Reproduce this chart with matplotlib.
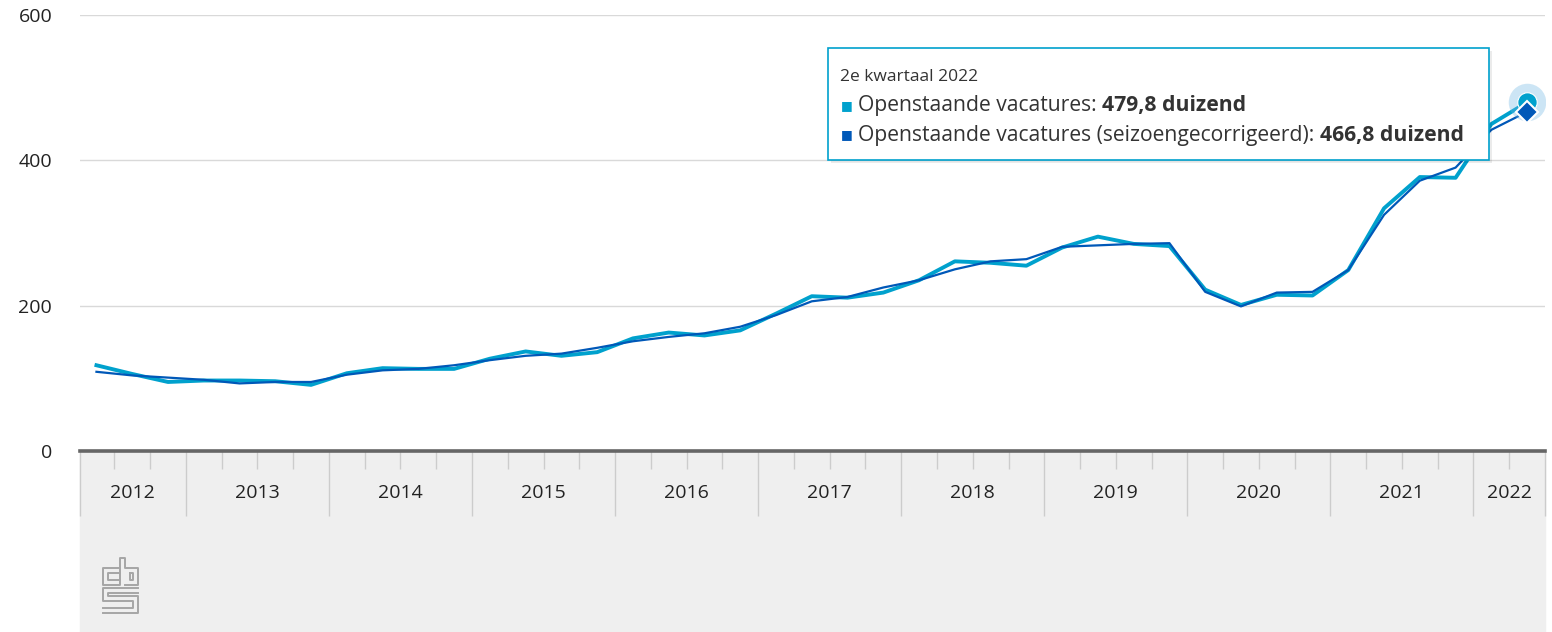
import matplotlib
matplotlib.use("Agg")
import matplotlib.pyplot as plt
from matplotlib.patches import Rectangle
from matplotlib.transforms import blended_transform_factory

plt.rcParams['font.family'] = ['Open Sans', 'DejaVu Sans']

# quarters 2012 Q2 .. 2022 Q2 (x1000 open vacancies)
years = [2012] * 3 + [y for y in range(2013, 2022) for _ in range(4)] + [2022] * 2
quarters = [2, 3, 4] + [1, 2, 3, 4] * 9 + [1, 2]
vac = [118, 106, 95, 97, 97, 96, 91, 107, 114, 113, 113, 127, 137, 131, 136,
       155, 163, 159, 166, 189, 213, 211, 218, 235, 261, 259, 255, 280, 295,
       285, 282, 222, 201, 215, 214, 249, 334, 377, 376, 450, 479.8]
vac_sa = [109, 104, 101, 98, 93, 95, 95, 105, 111, 113, 118, 125, 131, 134, 142,
          151, 157, 162, 171, 187, 206, 212, 225, 235, 250, 261, 264, 281, 283,
          285, 286, 219, 199, 218, 219, 249, 325, 372, 390, 442, 466.8]
year_labels = list(range(2012, 2023))
yticks = [0, 200, 400, 600]

CYAN = '#00a1cd'
BLUE = '#0058b8'

W, H = 1552, 632
fig = plt.figure(figsize=(W / 100, H / 100), dpi=100)

def fx(px):
    return px / W

def fy(py):
    return (H - py) / H

# gray axis band
fig.patches.append(Rectangle((fx(80), 0), fx(1545) - fx(80), fy(451),
                             transform=fig.transFigure, color='#efefef', zorder=-5))

ax = fig.add_axes([fx(80), fy(451), fx(1545) - fx(80), fy(15) - fy(451)])
ax.set_facecolor('none')

x = [y + (q - 0.5) / 4 for y, q in zip(years, quarters)]
xmin, xmax = 2012.26, 2022.5

ax.plot(x, vac, color=CYAN, lw=2.8, solid_joinstyle='round', zorder=3)
ax.plot(x, vac_sa, color=BLUE, lw=1.6, solid_joinstyle='round', zorder=4)

# hover markers on the last point
ax.plot(x[-1], vac[-1], 'o', ms=27, color='#6fb6e3', alpha=0.35, mec='none', zorder=5)
ax.plot(x[-1], vac[-1], 'o', ms=14, color=CYAN, mec='white', mew=0.8, zorder=6)
ax.plot(x[-1], vac_sa[-1], 'D', ms=11, color=BLUE, mec='white', mew=1.5, zorder=7)

ax.set_xlim(xmin, xmax)
ax.set_ylim(0, 600)
ax.set_yticks(yticks)
ax.yaxis.grid(True, color='#d9d9d9', lw=1)
ax.set_axisbelow(True)
ax.tick_params(axis='y', length=0, pad=20, labelsize=14, labelcolor='#222222')

for s in ['top', 'right', 'left']:
    ax.spines[s].set_visible(False)
ax.spines['bottom'].set_color('#666666')
ax.spines['bottom'].set_linewidth(2.6)

major = [xmin] + list(range(2013, 2023)) + [xmax]
minor = [y + q / 4 for y in year_labels for q in (1, 2, 3)]
minor = [m for m in minor if xmin < m < xmax]
ax.set_xticks(major)
ax.set_xticks(minor, minor=True)
ax.tick_params(axis='x', which='major', length=47, width=1, color='#cccccc', labelbottom=False)
ax.tick_params(axis='x', which='minor', length=13, width=1, color='#cccccc', labelbottom=False)

trans = blended_transform_factory(ax.transData, ax.transAxes)
for yr in year_labels:
    lo, hi = max(yr, xmin), min(yr + 1, xmax)
    ax.text((lo + hi) / 2, -0.097, str(yr), transform=trans, ha='center', va='center',
            fontsize=14, color='#222222', clip_on=False)

# tooltip
tip = Rectangle((fx(828), fy(160)), fx(1489) - fx(828), fy(48) - fy(160),
                transform=fig.transFigure, facecolor='white', edgecolor=CYAN,
                lw=1.2, zorder=10)
shadow = Rectangle((fx(831), fy(163)), fx(1489) - fx(828), fy(48) - fy(160),
                   transform=fig.transFigure, facecolor='#000000', alpha=0.08,
                   edgecolor='none', zorder=9)
fig.patches.extend([shadow, tip])

fig.text(fx(840), fy(77), '2e kwartaal 2022', fontsize=12.5, color='#333333',
         va='center', zorder=11)

renderer = fig.canvas.get_renderer()
rows = [(CYAN, 'Openstaande vacatures: ', '479,8 duizend', 106),
        (BLUE, 'Openstaande vacatures (seizoengecorrigeerd): ', '466,8 duizend', 135)]
for col, txt, val, py in rows:
    fig.text(fx(841), fy(py), '\u25a0', fontsize=9, color=col, va='center', zorder=11)
    t = fig.text(fx(858), fy(py), txt, fontsize=15.2, color='#333333', va='center', zorder=11)
    bb = t.get_window_extent(renderer)
    fig.text(bb.x1 / W, fy(py), val, fontsize=15.2, fontweight='bold', color='#333333',
             va='center', zorder=11)

# cbs logo (rough outline)
logo = [
    [(120, 385), (70, 385), (70, 435), (120, 435), (120, 355), (135, 355), (135, 385),
     (175, 385), (175, 435), (135, 435)],
    [(120, 400), (85, 400), (85, 420), (120, 420)],
    [(150, 400), (160, 400), (160, 420), (150, 420), (150, 400)],
    [(175, 445), (68, 445), (68, 482), (160, 482), (160, 503), (68, 503)],
    [(175, 460), (83, 460), (83, 468), (175, 468), (175, 518), (68, 518)],
]
for path in logo:
    xs = [fx(80 + p[0] / 3) for p in path]
    ys = [fy(440 + p[1] / 3) for p in path]
    fig.add_artist(plt.Line2D(xs, ys, transform=fig.transFigure, color='#a6a6a6', lw=1.4))

fig.savefig('out.png', dpi=100)
